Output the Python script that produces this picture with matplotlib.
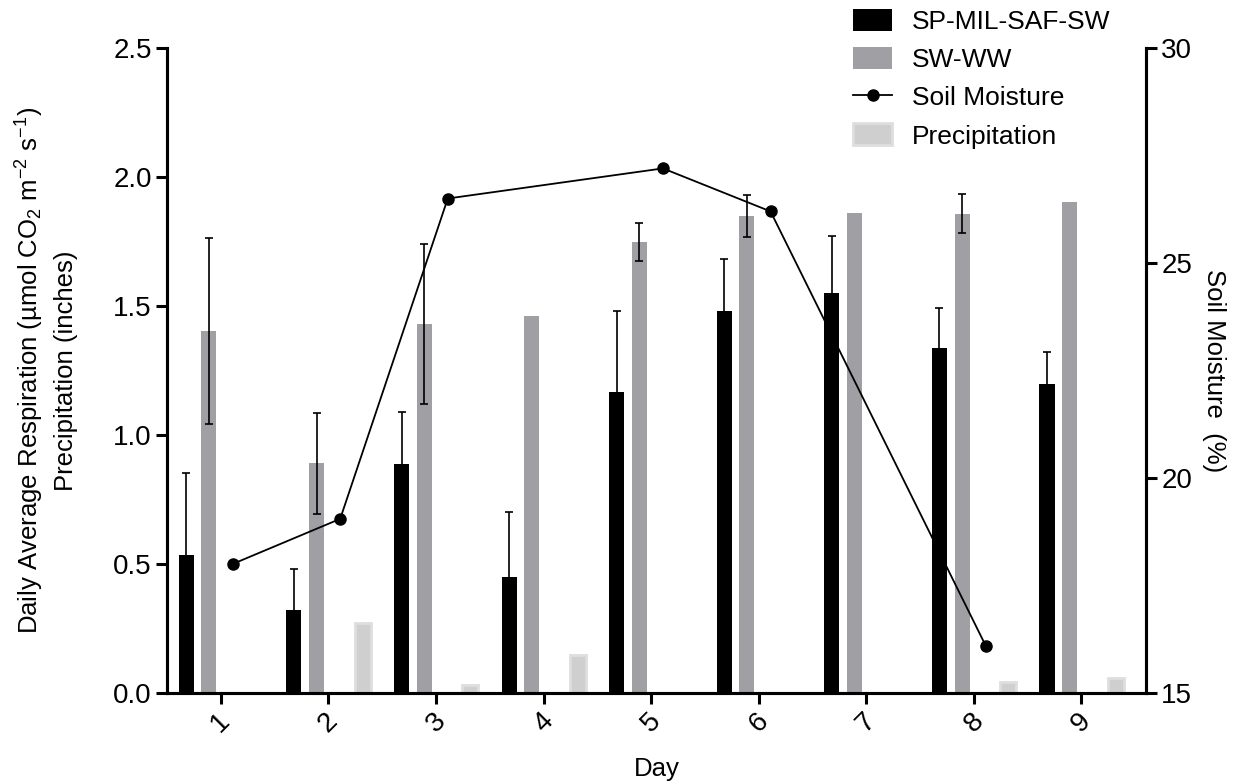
import numpy as np
import matplotlib
matplotlib.use("Agg")
import matplotlib.pyplot as plt
from matplotlib.patches import Patch
from matplotlib.lines import Line2D

plt.rcParams['font.family'] = ['Liberation Sans', 'DejaVu Sans']
plt.rcParams['mathtext.default'] = 'regular'

days = [1, 2, 3, 4, 5, 6, 7, 8, 9]
day_labels = ['1', '2', '3', '4', '5', '6', '7', '8', '9']
sp_mil = [0.534, 0.322, 0.888, 0.451, 1.167, 1.479, 1.552, 1.337, 1.197]
sp_mil_err = [0.318, 0.159, 0.200, 0.251, 0.314, 0.204, 0.221, 0.156, 0.124]
sw_ww = [1.402, 0.890, 1.429, 1.463, 1.747, 1.850, 1.861, 1.858, 1.902]
sw_ww_err = [0.36, 0.195, 0.31, 0.0, 0.074, 0.081, 0.0, 0.076, 0.0]
precip = [0.0, 0.271, 0.031, 0.147, 0.0, 0.0, 0.0, 0.044, 0.058]
soil_days = [1, 2, 3, 5, 6, 8]
soil_moisture = [18.0, 19.05, 26.5, 27.2, 26.2, 16.1]

W, H = 1239, 784
fig = plt.figure(figsize=(W/100, H/100), dpi=100)
ax = fig.add_axes([167/W, 1-693/H, (1146-167)/W, (693-48)/H])
ax2 = ax.twinx()

x = np.array(days, dtype=float)
bw = 0.14
ax.bar(x - 0.32, sp_mil, bw, color='black', zorder=2)
ax.errorbar(x - 0.32, sp_mil, yerr=sp_mil_err, fmt='none', ecolor='black',
            elinewidth=1.2, capsize=3, capthick=1.2, zorder=3)
ax.bar(x - 0.11, sw_ww, bw, color='#a0a0a4', zorder=2)
err_mask = np.array(sw_ww_err) > 0
ax.errorbar((x - 0.11)[err_mask], np.array(sw_ww)[err_mask],
            yerr=np.array(sw_ww_err)[err_mask], fmt='none', ecolor='black',
            elinewidth=1.2, capsize=3, capthick=1.2, zorder=3)
ax.bar(x + 0.32, precip, 0.15, color='#cfcfcf', edgecolor='#dedede',
       linewidth=2, zorder=2)

ax2.plot(np.array(soil_days) + 0.11, soil_moisture, color='black', lw=1.3,
         marker='o', markersize=8, zorder=4)

ax.set_xlim(0.5, 9.6)
ax.set_ylim(0, 2.5)
ax2.set_ylim(15, 30)
ax.set_yticks([0, 0.5, 1.0, 1.5, 2.0, 2.5])
ax.set_yticklabels(['0.0', '0.5', '1.0', '1.5', '2.0', '2.5'])
ax2.set_yticks([15, 20, 25, 30])
ax.set_xticks(days)
ax.set_xticklabels(day_labels, rotation=45, ha='center', va='top')

for a in (ax, ax2):
    for s in a.spines.values():
        s.set_linewidth(2.2)
    a.spines['top'].set_visible(False)
    a.tick_params(width=2.2, length=8, labelsize=20, direction='out', pad=3)
ax.tick_params(axis='x', pad=3)
ax2.patch.set_visible(False)

ax.set_xlabel('Day', fontsize=18.5, labelpad=14)
ax.set_ylabel('Daily Average Respiration (µmol CO$_2$ m$^{-2}$ s$^{-1}$)\nPrecipitation (inches)',
              fontsize=18.5, labelpad=25, linespacing=1.45)
ax2.set_ylabel('Soil Moisture  (%)', fontsize=18.5, rotation=270, labelpad=24)

handles = [Patch(facecolor='black'),
           Patch(facecolor='#a0a0a4'),
           Line2D([0], [0], color='black', lw=1.3, marker='o', markersize=8),
           Patch(facecolor='#cfcfcf', edgecolor='#dedede', linewidth=2)]
labels = ['SP-MIL-SAF-SW', 'SW-WW', 'Soil Moisture', 'Precipitation']
fig.legend(handles, labels, loc='upper left', bbox_to_anchor=(829/W, 1+15/H),
           frameon=False, fontsize=19, handlelength=1.5, handleheight=0.9,
           handletextpad=0.75, labelspacing=0.5)

fig.savefig('out.png', dpi=100)
